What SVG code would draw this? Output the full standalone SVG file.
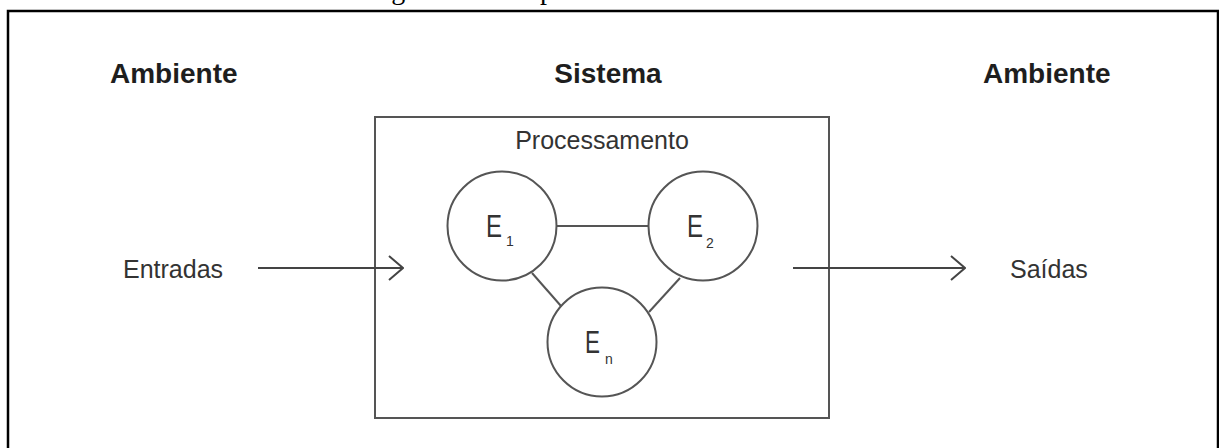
<svg xmlns="http://www.w3.org/2000/svg" width="1219" height="448" viewBox="0 0 1219 448">
<defs>
<style>
.cap{font-family:"Liberation Serif",serif;font-size:28px;fill:#000}
.hd{font-family:"Liberation Sans",Arial,sans-serif;font-size:28px;font-weight:bold;fill:#1e1e1e}
.lb{font-family:"Liberation Sans",Arial,sans-serif;font-size:25px;fill:#333}
.e{font-family:"Liberation Sans",Arial,sans-serif;font-size:31px;fill:#333}
.sub{font-family:"Liberation Sans",Arial,sans-serif;font-size:14px;fill:#333}
.node{fill:#fff;stroke:#555;stroke-width:2}
.conn{fill:none;stroke:#555;stroke-width:2}
.arr{fill:none;stroke:#444;stroke-width:2}
</style>
<marker id="chev" viewBox="0 0 16 26" refX="15" refY="13" markerWidth="16" markerHeight="26" markerUnits="userSpaceOnUse" orient="auto">
<path d="M1,1 L15,13 L1,25" fill="none" stroke="#444" stroke-width="2"/>
</marker>
</defs>
<rect width="1219" height="448" fill="#fff"/>
<text class="cap" x="368" y="-1">Figura 5 - Componentes de um Sistema</text>
<rect x="8" y="11" width="1210" height="450" fill="none" stroke="#000" stroke-width="2.5"/>
<g id="ambiente-entrada"><text class="hd" x="110" y="83">Ambiente</text></g>
<g id="sistema-titulo"><text class="hd" x="608" y="83" text-anchor="middle">Sistema</text></g>
<g id="ambiente-saida"><text class="hd" x="983" y="83">Ambiente</text></g>
<g id="sistema">
<rect class="node" x="375" y="117" width="454" height="301"/>
<text class="lb" x="602" y="149" text-anchor="middle">Processamento</text>
</g>
<g id="connectors">
<line class="conn" x1="557" y1="226" x2="648" y2="226"/>
<line class="conn" x1="532" y1="273" x2="561" y2="306"/>
<line class="conn" x1="680" y1="278" x2="649" y2="312"/>
<line class="arr" x1="258" y1="268" x2="403" y2="268" marker-end="url(#chev)"/>
<line class="arr" x1="793" y1="268" x2="965" y2="268" marker-end="url(#chev)"/>
</g>
<g id="E1">
<circle class="node" cx="502" cy="226" r="54.5"/>
<text class="e" x="486" y="237" textLength="16" lengthAdjust="spacingAndGlyphs">E</text><text class="sub" x="506" y="246">1</text>
</g>
<g id="E2">
<circle class="node" cx="703" cy="226" r="54.5"/>
<text class="e" x="687" y="237" textLength="16" lengthAdjust="spacingAndGlyphs">E</text><text class="sub" x="706" y="248">2</text>
</g>
<g id="En">
<circle class="node" cx="602" cy="342" r="54.5"/>
<text class="e" x="585" y="353" textLength="15" lengthAdjust="spacingAndGlyphs">E</text><text class="sub" x="605" y="364">n</text>
</g>
<g id="entradas"><text class="lb" x="123" y="278">Entradas</text></g>
<g id="saidas"><text class="lb" x="1010" y="278">Saídas</text></g>
</svg>
